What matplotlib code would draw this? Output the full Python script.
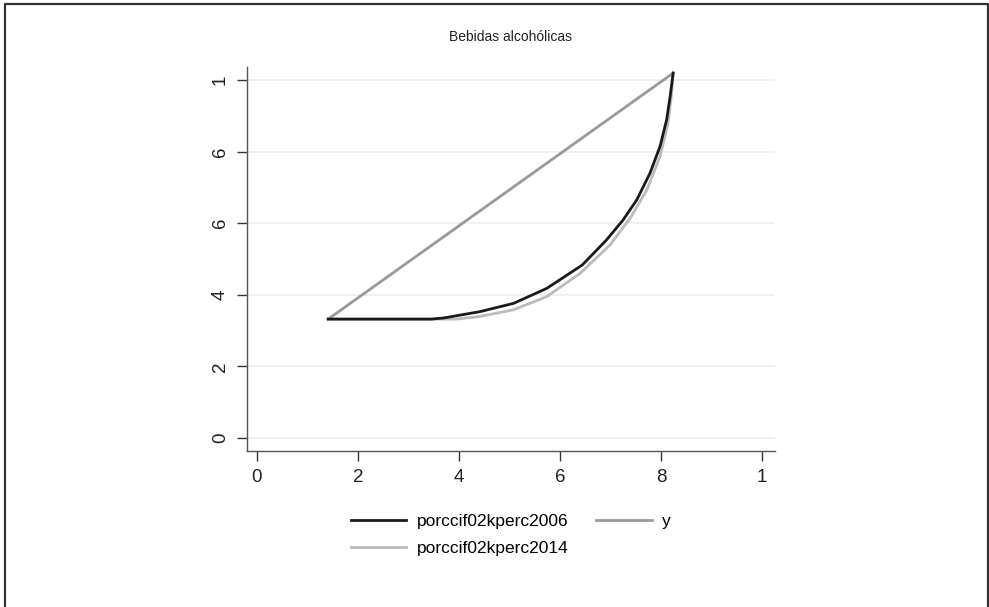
import matplotlib
matplotlib.use("Agg")
import matplotlib.pyplot as plt
from matplotlib.lines import Line2D
from matplotlib import font_manager

# Lorenz-type curves for alcoholic beverage spending
x_2006 = [0.141, 0.345, 0.369, 0.442, 0.508, 0.574, 0.644, 0.692, 0.725,
          0.752, 0.778, 0.798, 0.811, 0.818, 0.824]
y_2006 = [0.332, 0.332, 0.335, 0.353, 0.376, 0.418, 0.483, 0.553, 0.609,
          0.665, 0.739, 0.814, 0.888, 0.953, 1.019]

x_2014 = [0.141, 0.395, 0.440, 0.508, 0.574, 0.640, 0.699, 0.739, 0.772,
          0.798, 0.814, 0.821, 0.824]
y_2014 = [0.332, 0.332, 0.339, 0.358, 0.395, 0.460, 0.539, 0.614, 0.693,
          0.786, 0.879, 0.963, 1.019]

x_diag = [0.141, 0.824]
y_diag = [0.332, 1.019]

xticks = [0, 0.2, 0.4, 0.6, 0.8, 1.0]
xtick_labels = ["0", "2", "4", "6", "8", "1"]
yticks = [0, 0.2, 0.4, 0.6, 0.8, 1.0]
ytick_labels = ["0", "2", "4", "6", "6", "1"]

title = "Bebidas alcohólicas"
labels = ["porccif02kperc2006", "porccif02kperc2014", "y"]

names = {f.name for f in font_manager.fontManager.ttflist}
family = "Liberation Sans Narrow" if "Liberation Sans Narrow" in names else "Liberation Sans"
plt.rcParams["font.family"] = [family, "DejaVu Sans"]

W, H = 989, 607
fig = plt.figure(figsize=(W / 100, H / 100), dpi=100)
fig.patch.set_facecolor("white")

# outer frame
fx0, fx1, fy0 = 4.5 / W, 987.5 / W, 1 - 3.5 / H
fig.add_artist(Line2D([fx0, fx0, fx1, fx1], [0, fy0, fy0, 0],
                      transform=fig.transFigure, color="#333333", lw=1.6))

left, right, top, bottom = 247, 775, 67, 451
ax = fig.add_axes([left / W, 1 - bottom / H, (right - left) / W, (bottom - top) / H])

ax.set_xlim(-0.0198, 1.0257)
ax.set_ylim(-0.0363, 1.036)

for yv in yticks:
    ax.axhline(yv, color="#eeeeee", lw=1.2, zorder=0)

l1, = ax.plot(x_2006, y_2006, color="#1a1a1a", lw=2.0, zorder=3,
              solid_joinstyle="round")
l2, = ax.plot(x_2014, y_2014, color="#bbbbbb", lw=2.0, zorder=2,
              solid_joinstyle="round")
l3, = ax.plot(x_diag, y_diag, color="#999999", lw=2.0, zorder=2)

for side in ["top", "right"]:
    ax.spines[side].set_visible(False)
for side in ["left", "bottom"]:
    ax.spines[side].set_color("#555555")
    ax.spines[side].set_linewidth(1.0)

ax.set_xticks(xticks)
ax.set_xticklabels(xtick_labels, fontsize=13.5, color="#222222")
ax.set_yticks(yticks)
ax.set_yticklabels(ytick_labels, fontsize=13.5, color="#222222", rotation=90, va="center")
ax.tick_params(axis="both", direction="out", length=7, width=1.0, color="#333333", pad=6)

fig.text((left + right) / 2 / W, 1 - 37 / H, title, ha="center", va="center",
         fontsize=10, color="#222222", family=["Liberation Sans", "DejaVu Sans"])

fig.legend([l1, l2, l3], labels, ncol=2, frameon=False,
           loc="center", bbox_to_anchor=((left + right) / 2 / W, 1 - 535 / H),
           fontsize=12.5, handlelength=3.2, handletextpad=0.6,
           columnspacing=1.6, labelspacing=0.7)

fig.savefig("out.png", dpi=100, facecolor="white")
